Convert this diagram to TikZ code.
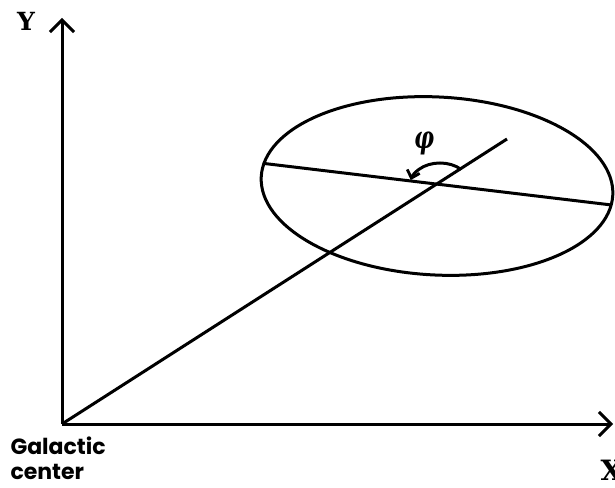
\documentclass[tikz,border=0pt]{standalone}
\usepackage{fontspec}
\newfontfamily\labfont{Poppins}
\newfontfamily\axfont{DejaVu Serif}
\usetikzlibrary{arrows.meta}
\begin{document}
\begin{tikzpicture}[x=1pt,y=1pt,line width=3pt,
  axis/.style={-{Straight Barb[length=12pt,width=24pt,line width=3pt]}},
  turn/.style={-{Straight Barb[length=7pt,width=13pt,line width=2.8pt]}},
  axlabel/.style={inner sep=0pt},
  caption/.style={inner sep=0pt,anchor=base west,font=\labfont\bfseries\fontsize{22}{26}\selectfont}]
\useasboundingbox (0,0) rectangle (615,487);
\coordinate (O) at (62,63);
\coordinate (Ytip) at (62,469);
\coordinate (Xtip) at (613,63);
\coordinate (D) at (507,348);
\coordinate (C) at (440,302);
\coordinate (E) at (437,301);
\coordinate (L) at (262.7,323.7);
\coordinate (R) at (611.7,282);
\draw[axis] (O) -- (Ytip);
\draw[axis] (O) -- (Xtip);
\draw (O) -- (D);
\draw[rotate around={-3:(E)}] (E) ellipse [x radius=176, y radius=89];
\draw (L) -- (R);
\draw[turn] ([shift={(45:30 and 22)}]C) arc [start angle=45, end angle=167, x radius=30, y radius=22];
\node[axlabel,font=\axfont\bfseries\fontsize{25}{25}\selectfont] (ylab) at (26,466) {Y};
\node[axlabel,anchor=west,font=\axfont\bfseries\fontsize{28}{28}\selectfont] (xlab) at (599,17) {X};
\node[inner sep=0pt] (phi) at (424,344) {\scalebox{0.85}[1.2]{\axfont\bfseries\itshape\fontsize{26}{26}\selectfont φ}};
\node[caption] (gal) at (9,33) {Galactic};
\node[caption] (cen) at (9,8) {center};
\end{tikzpicture}
\end{document}
